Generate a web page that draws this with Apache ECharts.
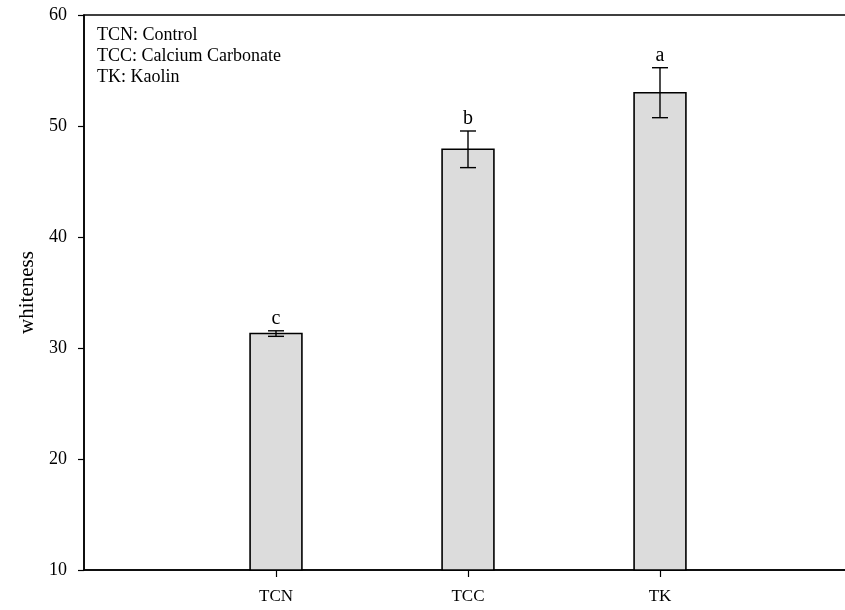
<!DOCTYPE html>
<html>
<head>
<meta charset="utf-8">
<script src="https://cdn.jsdelivr.net/npm/echarts@6/dist/echarts.min.js"></script>
<style>
  html, body { margin: 0; padding: 0; background: #fff; }
  #chart { width: 845px; height: 610px; }
</style>
</head>
<body>
<div id="chart"></div>
<script>
// Treatments, mean whiteness and standard error, significance letters
const categories = ['TCN', 'TCC', 'TK'];
const positions = [1, 2, 3];
const means = [31.3, 47.9, 53.0];
const errors = [0.25, 1.65, 2.25];
const letters = ['c', 'b', 'a'];
const yTicks = [10, 20, 30, 40, 50, 60];
const notes = ['TCN: Control', 'TCC: Calcium Carbonate', 'TK: Kaolin'];

const FONT = '"Liberation Serif", "Times New Roman", serif';

const barData = positions.map((p, i) => [p, means[i], errors[i], i]);

const chart = echarts.init(document.getElementById('chart'), null, { renderer: 'canvas' });

chart.setOption({
  animation: false,
  backgroundColor: '#ffffff',
  textStyle: { fontFamily: FONT },
  // the frame runs past the right edge of the page, so only three sides show
  grid: {
    left: 84, width: 768, top: 15, bottom: 40,
    show: true, borderColor: '#000', borderWidth: 1.5,
    containLabel: false, outerBoundsMode: 'none'
  },
  xAxis: {
    type: 'value', min: 0, max: 4, interval: 1,
    splitLine: { show: false },
    axisLine: { show: true, lineStyle: { color: '#000', width: 1.5 } },
    axisTick: { show: true, length: 7, inside: false, customValues: positions,
      lineStyle: { color: '#000', width: 1.2 } },
    axisLabel: {
      customValues: positions,
      margin: 18, color: '#000', fontFamily: FONT, fontSize: 17,
      formatter: v => categories[positions.indexOf(v)] || ''
    }
  },
  yAxis: {
    type: 'value', min: yTicks[0], max: yTicks[yTicks.length - 1], interval: 10,
    name: 'whiteness', nameLocation: 'middle', nameRotate: 90, nameGap: 35,
    nameTextStyle: { color: '#000', fontFamily: FONT, fontSize: 21 },
    splitLine: { show: false },
    axisLine: { show: true, lineStyle: { color: '#000', width: 1.5 } },
    axisTick: { show: true, length: 6, inside: false, lineStyle: { color: '#000', width: 1.2 } },
    axisLabel: { margin: 17, color: '#000', fontFamily: FONT, fontSize: 18 }
  },
  graphic: [{
    type: 'text', left: 97, top: 25,
    style: {
      text: notes.join('\n'), fill: '#000',
      font: '18px ' + FONT, lineHeight: 21
    }
  }],
  series: [{
    type: 'custom',
    clip: false,
    data: barData,
    encode: { x: 0, y: 1 },
    renderItem: function (params, api) {
      const x = api.value(0), m = api.value(1), e = api.value(2), idx = api.value(3);
      const base = api.coord([x, yTicks[0]]);
      const top = api.coord([x, m]);
      const hi = api.coord([x, m + e]);
      const lo = api.coord([x, m - e]);
      const bw = api.size([0.27, 0])[0];
      const cap = 8;
      return {
        type: 'group',
        children: [
          { type: 'rect',
            shape: { x: top[0] - bw / 2, y: top[1], width: bw, height: base[1] - top[1] },
            style: { fill: '#dcdcdc', stroke: '#000', lineWidth: 1.6 } },
          { type: 'line', shape: { x1: hi[0], y1: hi[1], x2: lo[0], y2: lo[1] },
            style: { stroke: '#000', lineWidth: 1.4 } },
          { type: 'line', shape: { x1: hi[0] - cap, y1: hi[1], x2: hi[0] + cap, y2: hi[1] },
            style: { stroke: '#000', lineWidth: 1.4 } },
          { type: 'line', shape: { x1: lo[0] - cap, y1: lo[1], x2: lo[0] + cap, y2: lo[1] },
            style: { stroke: '#000', lineWidth: 1.4 } },
          { type: 'text',
            style: { x: hi[0], y: hi[1] - 2, text: letters[idx], fill: '#000',
              font: '20px ' + FONT, align: 'center', verticalAlign: 'bottom' } }
        ]
      };
    }
  }]
});
</script>
</body>
</html>
